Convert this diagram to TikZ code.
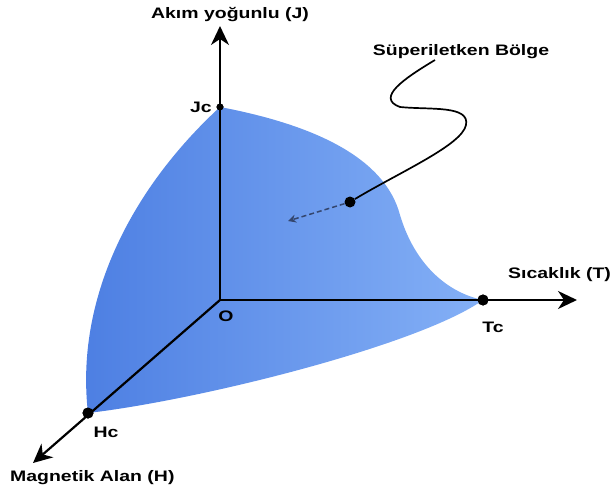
\documentclass[tikz,border=0pt]{standalone}
\usepackage{fontspec}
\newfontfamily\lblfont[FakeStretch=1.28]{Liberation Sans}
\usetikzlibrary{arrows.meta}
\definecolor{colRegionA}{RGB}{76,126,226}
\definecolor{colRegionB}{RGB}{132,176,246}
\definecolor{colDash}{RGB}{52,70,110}

\begin{document}
\begin{tikzpicture}[x=1pt, y=-1pt,
  lbl/.style={font=\lblfont\bfseries\fontsize{15.2}{17}\selectfont, inner sep=0pt},
  axis/.style={line width=2.2pt, -{Stealth[length=19pt, width=18pt, inset=6pt]}},
  dot/.style={circle, fill=black, inner sep=0pt, minimum size=#1},
  dot/.default=11pt,
]
\useasboundingbox (0,0) rectangle (614,495);

\coordinate (O) at (220,300);
\coordinate (Jtip) at (220,26);
\coordinate (Ttip) at (577,300);
\coordinate (Htip) at (33,463);
\node[dot=7pt] (Jc) at (220,107) {};
\node[dot] (Tc) at (483,300) {};
\node[dot] (Hc) at (88,413) {};

% superconducting region
\shade[left color=colRegionA, right color=colRegionB]
  (Jc.center) .. controls (315,125) and (385,158) .. (400,215)
  .. controls (414,262) and (445,292) .. (Tc.center)
  .. controls (420,345) and (200,400) .. (Hc.center)
  .. controls (75,300) and (130,190) .. (Jc.center) -- cycle;

\draw[axis] (O) -- (Jtip);
\draw[axis] (O) -- (Ttip);
\draw[axis] (O) -- (Htip);
\node[dot=7pt] at (Jc) {};
\node[dot] at (Tc) {};
\node[dot] at (Hc) {};

\node[lbl] (Jlabel) at (230,15) {Akım yoğunlu (J)};
\node[lbl, anchor=west] (Tlabel) at (508,275) {Sıcaklık (T)};
\node[lbl, anchor=west] (Hlabel) at (10,478) {Magnetik Alan (H)};
\node[lbl] (JcLabel) at (201,107) {Jc};
\node[lbl] (TcLabel) at (493,327) {Tc};
\node[lbl] (HcLabel) at (106,432) {Hc};
\node[lbl] (Olabel) at (226,316) {O};

% pointer to the region
\node[lbl] (region) at (461,52) {Süperiletken Bölge};
\node[dot] (pin) at (350,202) {};
\coordinate (inside) at (288,221);
\draw[line width=1.7pt] (435,60) .. controls (405,78) and (375,98) .. (400,107)
  .. controls (430,110) and (470,105) .. (466,125)
  .. controls (462,145) and (400,172) .. (pin);
\draw[colDash, line width=1.5pt, dash pattern=on 5pt off 3pt, -{Stealth[length=8pt, width=8pt]}] (pin) -- (inside);

\end{tikzpicture}
\end{document}
